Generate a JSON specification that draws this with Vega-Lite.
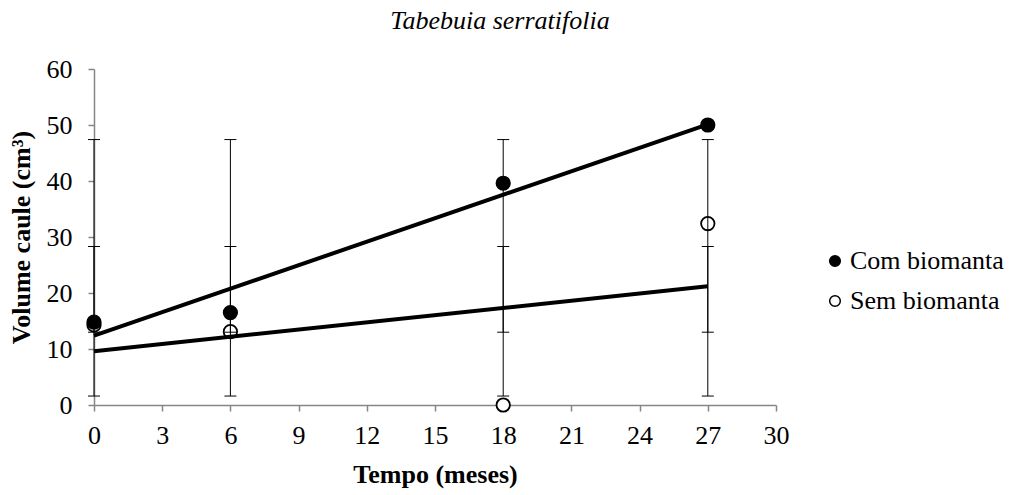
{
  "$schema": "https://vega.github.io/schema/vega-lite/v6.json",
  "autosize": {"type": "none"},
  "padding": {"left": 94, "top": 69, "right": 235, "bottom": 90},
  "width": 682,
  "height": 336,
  "background": "white",
  "title": {
    "text": "Tabebuia serratifolia",
    "font": "Liberation Serif",
    "fontSize": 26,
    "fontStyle": "italic",
    "fontWeight": "normal",
    "color": "#000000",
    "anchor": "middle",
    "dx": 65,
    "offset": 22
  },
  "datasets": {
    "pontos": [
      {"t": 0, "grupo": "Sem biomanta", "v": 14.3},
      {"t": 6, "grupo": "Sem biomanta", "v": 13.1},
      {"t": 18, "grupo": "Sem biomanta", "v": 0},
      {"t": 27, "grupo": "Sem biomanta", "v": 32.4},
      {"t": 0, "grupo": "Com biomanta", "v": 14.8},
      {"t": 6, "grupo": "Com biomanta", "v": 16.5},
      {"t": 18, "grupo": "Com biomanta", "v": 39.6},
      {"t": 27, "grupo": "Com biomanta", "v": 50.0}
    ],
    "erros": [
      {"t": 0, "lo": 1.6, "hi": 47.4},
      {"t": 0, "lo": 13.0, "hi": 28.3},
      {"t": 6, "lo": 1.6, "hi": 47.4},
      {"t": 6, "lo": 13.0, "hi": 28.3},
      {"t": 18, "lo": 1.6, "hi": 47.4},
      {"t": 18, "lo": 13.0, "hi": 28.3},
      {"t": 27, "lo": 1.6, "hi": 47.4},
      {"t": 27, "lo": 13.0, "hi": 28.3}
    ],
    "tendencia": [
      {"t": 0, "grupo": "Com biomanta", "v": 12.4},
      {"t": 27, "grupo": "Com biomanta", "v": 50.1},
      {"t": 0, "grupo": "Sem biomanta", "v": 9.6},
      {"t": 27, "grupo": "Sem biomanta", "v": 21.2}
    ]
  },
  "config": {
    "view": {"stroke": null},
    "font": "Liberation Serif",
    "title": {"font": "Liberation Serif"},
    "legend": {"labelFont": "Liberation Serif", "labelFontSize": 26, "labelColor": "#000000"},
    "axis": {
      "domainColor": "#868686",
      "tickColor": "#868686",
      "domainWidth": 1.5,
      "tickWidth": 1.5,
      "tickSize": 6,
      "grid": false,
      "labelFlush": false,
      "labelFont": "Liberation Serif",
      "labelFontSize": 26,
      "labelColor": "#000000",
      "titleFont": "Liberation Serif",
      "titleFontSize": 26,
      "titleFontWeight": "bold",
      "titleColor": "#000000"
    }
  },
  "layer": [
    {
      "data": {"name": "pontos"},
      "mark": {"type": "point", "shape": "circle", "filled": false, "size": 180, "strokeWidth": 1.8, "stroke": "#000000", "opacity": 1},
      "encoding": {
        "x": {
          "field": "t", "type": "quantitative",
          "scale": {"domain": [0, 30], "nice": false, "zero": false},
          "axis": {"values": [0, 3, 6, 9, 12, 15, 18, 21, 24, 27, 30], "title": "Tempo (meses)", "labelPadding": 11, "titlePadding": 13, "labelFlush": false}
        },
        "y": {
          "field": "v", "type": "quantitative",
          "scale": {"domain": [0, 60], "nice": false},
          "axis": {"values": [0, 10, 20, 30, 40, 50, 60], "title": "Volume caule (cm³)", "labelPadding": 16, "titlePadding": 12, "labelFlush": false}
        },
        "fill": {
          "field": "grupo", "type": "nominal",
          "scale": {"domain": ["Com biomanta", "Sem biomanta"], "range": ["#000000", "#ffffff"]},
          "legend": {
            "title": null,
            "orient": "none",
            "legendX": 728,
            "legendY": 179,
            "symbolType": "circle",
            "symbolSize": 113,
            "symbolStrokeColor": "#000000",
            "symbolStrokeWidth": 1.5,
            "labelFont": "Liberation Serif",
            "labelFontSize": 26,
            "labelColor": "#000000",
            "labelOffset": 2,
            "rowPadding": 14
          }
        },
        "order": {"field": "grupo", "sort": "descending"}
      }
    },
    {
      "data": {"name": "erros"},
      "mark": {"type": "rule", "color": "#000000", "strokeWidth": 1},
      "encoding": {
        "x": {"field": "t", "type": "quantitative"},
        "y": {"field": "lo", "type": "quantitative"},
        "y2": {"field": "hi"}
      }
    },
    {
      "data": {"name": "erros"},
      "transform": [{"fold": ["lo", "hi"], "as": ["k", "cap"]}],
      "mark": {"type": "tick", "orient": "horizontal", "size": 12, "thickness": 1, "color": "#000000", "opacity": 1},
      "encoding": {
        "x": {"field": "t", "type": "quantitative"},
        "y": {"field": "cap", "type": "quantitative"}
      }
    },
    {
      "data": {"name": "tendencia"},
      "mark": {"type": "line", "color": "#000000", "strokeWidth": 4, "strokeCap": "butt"},
      "encoding": {
        "x": {"field": "t", "type": "quantitative"},
        "y": {"field": "v", "type": "quantitative"},
        "detail": {"field": "grupo"}
      }
    }
  ]
}
